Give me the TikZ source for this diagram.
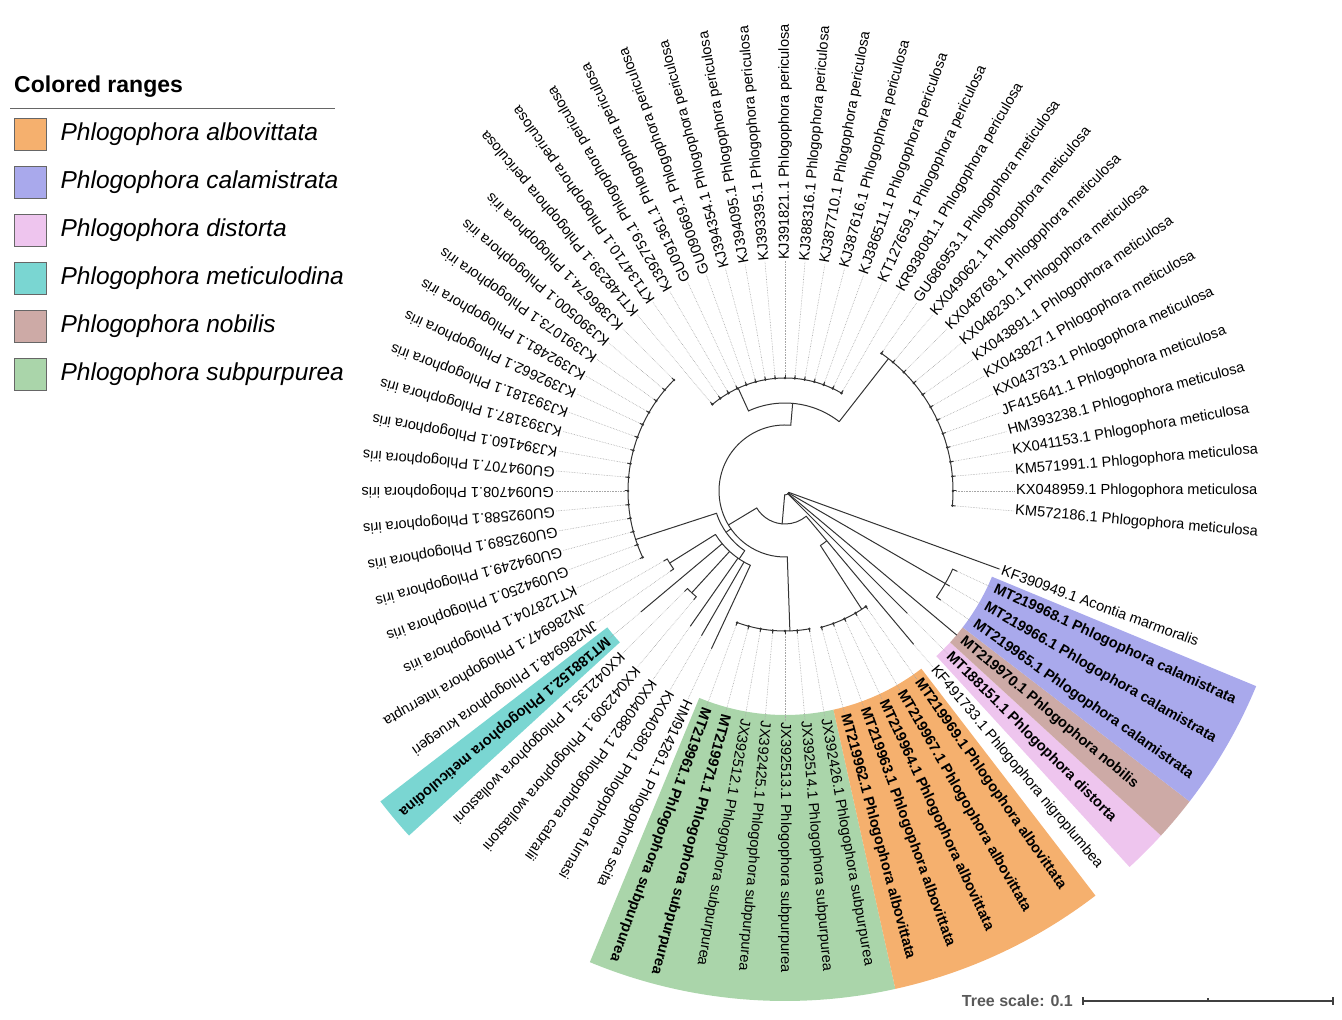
\documentclass[tikz,border=0pt]{standalone}
\usepackage{fontspec}
\setmainfont{Liberation Sans}
\usetikzlibrary{positioning}

\definecolor{colAlbo}{RGB}{245,176,110}
\definecolor{colCala}{RGB}{169,169,236}
\definecolor{colDist}{RGB}{238,197,238}
\definecolor{colMeti}{RGB}{122,214,210}
\definecolor{colNobi}{RGB}{205,170,166}
\definecolor{colSubp}{RGB}{170,213,170}

% radial branch, arc of a clade, coloured range
\newcommand{\radial}[3]{\draw[branch] (#1:#2) -- (#1:#3);}
\newcommand{\clade}[3]{\draw[branch] (#1:#3) arc[start angle=#1,end angle=#2,radius=#3pt];}
\newcommand{\crange}[3]{\fill[#3] (#1:224) arc[start angle=#1,end angle=#2,radius=224pt] -- (#2:510) arc[start angle=#2,end angle=#1,radius=510pt] -- cycle;}

\begin{document}
\begin{tikzpicture}[
  x=1pt,y=1pt,
  branch/.style={draw=black!80,line width=1pt,line cap=round},
  leader/.style={draw=black!35,densely dotted,line width=0.6pt},
  leaf/.style={anchor=west,inner sep=1pt,font=\fontsize{14.6}{16}\selectfont},
  leafb/.style={leaf,font=\fontsize{14.6}{16}\selectfont\bfseries},
  tipdot/.style={fill=black!80},
  legbox/.style={draw=black!60,line width=0.8pt,minimum size=32pt,inner sep=0pt},
  legtext/.style={anchor=west,inner sep=0pt,font=\fontsize{24.5}{28}\selectfont\itshape},
  legtitle/.style={anchor=west,inner sep=0pt,font=\fontsize{23}{27}\selectfont\bfseries},
  scaletext/.style={anchor=east,inner sep=0pt,text=black!65,font=\fontsize{16}{19}\selectfont\bfseries},
  scalebar/.style={draw=black!75,line width=1.2pt},
  node distance=14pt
]
\useasboundingbox (0,0) rectangle (1342,1020);

% legend
\node[legtitle] (title) at (14,933) {Colored ranges};
\draw[black!60,line width=0.8pt] (10,912) -- (335,912);
\node[legbox,fill=colAlbo] (kAlbo) at (30,886) {};
\node[legbox,fill=colCala] (kCala) at (30,838) {};
\node[legbox,fill=colDist] (kDist) at (30,790) {};
\node[legbox,fill=colMeti] (kMeti) at (30,742) {};
\node[legbox,fill=colNobi] (kNobi) at (30,694) {};
\node[legbox,fill=colSubp] (kSubp) at (30,646) {};
\node[legtext,right=of kAlbo] (tAlbo) {Phlogophora albovittata};
\node[legtext,right=of kCala] (tCala) {Phlogophora calamistrata};
\node[legtext,right=of kDist] (tDist) {Phlogophora distorta};
\node[legtext,right=of kMeti] (tMeti) {Phlogophora meticulodina};
\node[legtext,right=of kNobi] (tNobi) {Phlogophora nobilis};
\node[legtext,right=of kSubp] (tSubp) {Phlogophora subpurpurea};

\begin{scope}[shift={(785,529)}]
% coloured ranges
\crange{247.5}{282.5}{colSubp}
\crange{282.5}{307.5}{colAlbo}
\crange{312.5}{317.5}{colDist}
\crange{317.5}{322.5}{colNobi}
\crange{322.5}{337.5}{colCala}
\crange{217.5}{222.5}{colMeti}

% tree
\clade{265}{340}{4}
\radial{340}{4}{228}
\radial{330}{4}{185} \clade{325}{335}{185}
\radial{320}{4}{224}
\radial{315}{4}{173}
\radial{265}{4}{33} \clade{211}{310}{33}
\radial{310}{33}{200} \clade{303}{310}{65}
\radial{303}{65}{141} \clade{285}{305}{141}
\radial{211}{33}{66} \clade{85}{272}{66}
\radial{272}{66}{140} \clade{250}{280}{140}
\radial{85}{66}{88} \clade{52}{114.5}{88}
\radial{52}{88}{168} \clade{-5}{55}{168}
\radial{114.5}{88}{113} \clade{60}{130}{113}
\radial{215}{66}{72} \clade{198}{236}{72}
\radial{198}{72}{157} \clade{135}{205}{157}
\radial{236}{72}{82} \clade{212}{245}{82}
\radial{212}{82}{136} \clade{210}{215}{136}
\radial{220}{82}{188}
\radial{227.5}{82}{138} \clade{225}{230}{138}
\radial{235}{82}{165}
\radial{240}{82}{167}
\radial{245}{82}{174}

% short tips on the clade arcs
\foreach \a/\b/\r/\t in {1/13/168/171,14/28/113/116,29/43/157/160,52/58/140/143,59/63/141/144}{
  \foreach \i in {\a,...,\b}{
    \draw[branch] ({5*\i-10}:\r) -- ({5*\i-10}:\t);
    \fill[tipdot] ({5*\i-10}:\r) circle[radius=1.4pt];
  }
}
\foreach \i/\r/\t in {44/136/140,45/136/140,47/138/142,48/138/142,67/185/190,68/185/190,69/185/190}{
  \draw[branch] ({5*\i-10}:\r) -- ({5*\i-10}:\t);
}

% leaf labels
\foreach \i/\tip/\txt in {
  1/171/KM572186.1 Phlogophora meticulosa,
  2/171/KX048959.1 Phlogophora meticulosa,
  3/171/KM571991.1 Phlogophora meticulosa,
  4/171/KX041153.1 Phlogophora meticulosa,
  5/171/HM393238.1 Phlogophora meticulosa,
  6/171/JF415641.1 Phlogophora meticulosa,
  7/171/KX043733.1 Phlogophora meticulosa,
  8/171/KX043827.1 Phlogophora meticulosa,
  9/171/KX043891.1 Phlogophora meticulosa,
  10/171/KX048230.1 Phlogophora meticulosa,
  11/171/KX048768.1 Phlogophora meticulosa,
  12/171/KX049062.1 Phlogophora meticulosa,
  13/171/GU686953.1 Phlogophora meticulosa,
  14/116/KR938081.1 Phlogophora periculosa,
  15/116/KT127659.1 Phlogophora periculosa,
  16/116/KJ386511.1 Phlogophora periculosa,
  17/116/KJ387616.1 Phlogophora periculosa,
  18/116/KJ387710.1 Phlogophora periculosa,
  19/116/KJ388316.1 Phlogophora periculosa,
  20/116/KJ391821.1 Phlogophora periculosa,
  21/116/KJ393395.1 Phlogophora periculosa,
  22/116/KJ394095.1 Phlogophora periculosa,
  23/116/KJ394354.1 Phlogophora periculosa,
  24/116/GU090669.1 Phlogophora periculosa,
  25/116/GU091361.1 Phlogophora periculosa,
  26/116/KJ392759.1 Phlogophora periculosa,
  27/116/KT134710.1 Phlogophora periculosa,
  28/116/KT148239.1 Phlogophora periculosa,
  29/160/KJ386674.1 Phlogophora iris,
  30/160/KJ390500.1 Phlogophora iris,
  31/160/KJ391073.1 Phlogophora iris,
  32/160/KJ392481.1 Phlogophora iris,
  33/160/KJ392662.1 Phlogophora iris,
  34/160/KJ393181.1 Phlogophora iris,
  35/160/KJ393187.1 Phlogophora iris,
  36/160/KJ394160.1 Phlogophora iris,
  37/160/GU094707.1 Phlogophora iris,
  38/160/GU094708.1 Phlogophora iris,
  39/160/GU092588.1 Phlogophora iris,
  40/160/GU092589.1 Phlogophora iris,
  41/160/GU094249.1 Phlogophora iris,
  42/160/GU094250.1 Phlogophora iris,
  43/160/KT128704.1 Phlogophora iris,
  44/140/JN286947.1 Phlogophora interrupta,
  45/140/JN286948.1 Phlogophora kruegeri,
  47/142/KX042135.1 Phlogophora wollastoni,
  48/142/KX042309.1 Phlogophora wollastoni,
  49/165/KX040882.1 Phlogophora cabralii,
  50/167/KX040380.1 Phlogophora furnasi,
  51/174/HM914261.1 Phlogophora scita,
  54/143/JX392512.1 Phlogophora subpurpurea,
  55/143/JX392425.1 Phlogophora subpurpurea,
  56/143/JX392513.1 Phlogophora subpurpurea,
  57/143/JX392514.1 Phlogophora subpurpurea,
  58/143/JX392426.1 Phlogophora subpurpurea,
  64/200/KF491733.1 Phlogophora nigroplumbea,
  70/228/KF390949.1 Acontia marmoralis}{
  \pgfmathsetmacro\ang{5*\i-10}
  \coordinate (t\i) at (\ang:\tip);
  \node[leaf,rotate=\ang] (l\i) at (\ang:230) {\txt};
  \draw[leader] (t\i) -- (l\i.west);
}
\foreach \i/\tip/\txt in {
  46/188/MT188152.1 Phlogophora meticulodina,
  52/143/MT219961.1 Phlogophora subpurpurea,
  53/143/MT219971.1 Phlogophora subpurpurea,
  59/144/MT219962.1 Phlogophora albovittata,
  60/144/MT219963.1 Phlogophora albovittata,
  61/144/MT219964.1 Phlogophora albovittata,
  62/144/MT219967.1 Phlogophora albovittata,
  63/144/MT219969.1 Phlogophora albovittata,
  65/173/MT188151.1 Phlogophora distorta,
  66/224/MT219970.1 Phlogophora nobilis,
  67/190/MT219965.1 Phlogophora calamistrata,
  68/190/MT219966.1 Phlogophora calamistrata,
  69/190/MT219968.1 Phlogophora calamistrata}{
  \pgfmathsetmacro\ang{5*\i-10}
  \coordinate (t\i) at (\ang:\tip);
  \node[leafb,rotate=\ang] (l\i) at (\ang:230) {\txt};
  \draw[leader] (t\i) -- (l\i.west);
}
\end{scope}

% tree scale
\coordinate (sbL) at (1083,19);
\coordinate (sbM) at (1208,19);
\coordinate (sbR) at (1333,19);
\draw[scalebar] (sbL) -- (sbR);
\draw[scalebar] ([yshift=-4pt]sbL) -- ([yshift=4pt]sbL);
\draw[scalebar] ([yshift=-4pt]sbR) -- ([yshift=4pt]sbR);
\draw[scalebar] (sbM) -- ([yshift=3pt]sbM);
\node[scaletext] (scalelbl) at (1073,19) {Tree scale: 0.1};
\end{tikzpicture}
\end{document}
